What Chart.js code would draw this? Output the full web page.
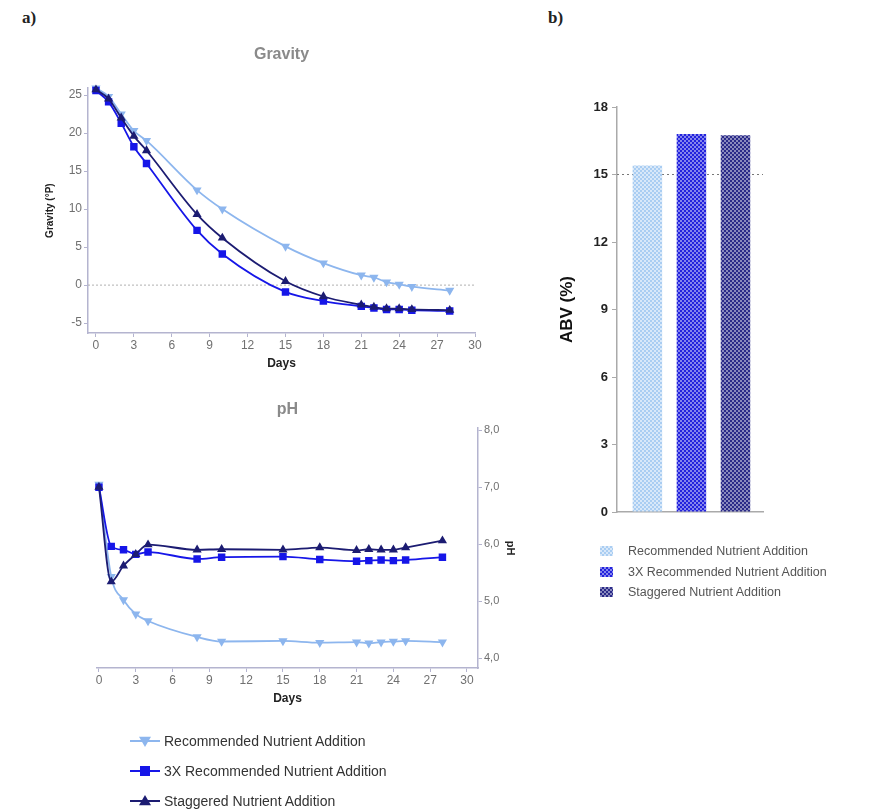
<!DOCTYPE html>
<html>
<head>
<meta charset="utf-8">
<script src="https://cdn.jsdelivr.net/npm/chart.js@4.4.1/dist/chart.umd.min.js"></script>
<style>
  body { margin: 0; background: #fff; width: 869px; height: 811px; position: relative; overflow: hidden;
         font-family: "Liberation Sans", Arial, sans-serif; }
  .box { position: absolute; }
  .panel { position: absolute; font-family: "Liberation Serif", "DejaVu Serif", serif; font-weight: bold; font-size: 17px; color: #222; }
  .leg { position: absolute; }
  .leg .row { display: flex; align-items: center; }
  .leg canvas { display: block; }
</style>
</head>
<body>
<div class="panel" style="left:22px;top:8px">a)</div>
<div class="panel" style="left:548px;top:8px">b)</div>

<div class="box" style="left:0;top:30px"><canvas id="gravity" width="487" height="350"></canvas></div>
<div class="box" style="left:0;top:385px"><canvas id="ph" width="525" height="330"></canvas></div>
<div class="box" style="left:540px;top:60px"><canvas id="abv" width="230" height="470"></canvas></div>

<div class="leg" id="lineLegend" style="left:128px;top:726px"></div>
<div class="leg" id="barLegend" style="left:600px;top:541px"></div>

<script>
// ---- data ----
const seriesNames = ["Recommended Nutrient Addition", "3X Recommended Nutrient Addition", "Staggered Nutrient Addition"];
const days = [0, 1, 2, 3, 4, 8, 10, 15, 18, 21, 22, 23, 24, 25, 28];
const dayTicks = [0, 3, 6, 9, 12, 15, 18, 21, 24, 27, 30];

const gravityRecommended = [25.9, 24.8, 22.5, 20.3, 19.0, 12.5, 10.0, 5.1, 2.9, 1.3, 1.0, 0.4, 0.1, -0.2, -0.7];
const gravity3X = [25.6, 24.1, 21.3, 18.2, 16.0, 7.2, 4.1, -0.9, -2.1, -2.8, -3.0, -3.2, -3.2, -3.3, -3.4];
const gravityStaggered = [25.7, 24.5, 22.0, 19.6, 17.7, 9.3, 6.2, 0.5, -1.5, -2.6, -2.9, -3.1, -3.1, -3.2, -3.3];
const gravityTicks = [-5, 0, 5, 10, 15, 20, 25];

const phRecommended = [7.05, 5.43, 5.02, 4.77, 4.65, 4.37, 4.29, 4.30, 4.27, 4.28, 4.26, 4.28, 4.29, 4.30, 4.28];
const ph3X = [7.0, 5.96, 5.90, 5.82, 5.86, 5.74, 5.77, 5.78, 5.73, 5.70, 5.71, 5.72, 5.71, 5.72, 5.77];
const phStaggered = [7.0, 5.34, 5.62, 5.82, 5.99, 5.90, 5.91, 5.90, 5.94, 5.89, 5.91, 5.90, 5.90, 5.94, 6.06];
const phTicks = [4, 5, 6, 7, 8];

const abvValues = [15.4, 16.8, 16.75];
const abvTicks = [0, 3, 6, 9, 12, 15, 18];
const abvRefLine = 15;
const gravityRefLine = 0;

// ---- styles ----
const lineColors = ["#8db6ee", "#1616e8", "#1c1c72"];
const barColors = ["#a9cdf2", "#2222dd", "#2a2a88"];
const axisColor = "#b4b4cf";

function checker(color, alpha) {
  const c = document.createElement("canvas");
  c.width = 4; c.height = 4;
  const g = c.getContext("2d");
  g.fillStyle = color;
  g.fillRect(0, 0, 4, 4);
  g.fillStyle = "rgba(255,255,255," + alpha + ")";
  g.fillRect(0, 0, 2, 2);
  g.fillRect(2, 2, 2, 2);
  return g.createPattern(c, "repeat");
}
const barPatterns = [checker(barColors[0], 0.55), checker(barColors[1], 0.45), checker(barColors[2], 0.45)];

const refLines = {
  id: "refLines",
  beforeDatasetsDraw(chart, args, opts) {
    const ctx = chart.ctx;
    const y = chart.scales.y.getPixelForValue(opts.value);
    ctx.save();
    ctx.setLineDash(opts.dash);
    ctx.strokeStyle = opts.color;
    ctx.lineWidth = 1;
    ctx.beginPath();
    ctx.moveTo(chart.chartArea.left, y);
    ctx.lineTo(chart.chartArea.right, y);
    ctx.stroke();
    ctx.restore();
  }
};

const toPoints = arr => arr.map((v, i) => ({ x: days[i], y: v }));
const fixTicks = list => scale => { scale.ticks = list.map(v => ({ value: v })); };

function lineSets(a, b, c) {
  const values = [a, b, c];
  const styles = [
    { pointStyle: "triangle", rotation: 180, radius: 3.5 },
    { pointStyle: "rect", rotation: 0, radius: 4 },
    { pointStyle: "triangle", rotation: 0, radius: 3.5 }
  ];
  return values.map((v, i) => ({
    label: seriesNames[i],
    data: toPoints(v),
    borderColor: lineColors[i],
    backgroundColor: lineColors[i],
    borderWidth: 1.8,
    pointStyle: styles[i].pointStyle,
    rotation: styles[i].rotation,
    pointRadius: styles[i].radius,
    cubicInterpolationMode: "monotone",
    clip: false
  })).reverse();
}

Chart.defaults.font.family = '"Liberation Sans", Arial, sans-serif';
Chart.defaults.animation = false;

new Chart(document.getElementById("gravity"), {
  type: "line",
  data: { datasets: lineSets(gravityRecommended, gravity3X, gravityStaggered) },
  options: {
    responsive: false,
    layout: { padding: { left: 40, right: 12 } },
    plugins: {
      legend: { display: false },
      tooltip: { enabled: false },
      title: { display: true, text: "Gravity", fullSize: false, color: "#8a8a8a",
               font: { size: 16, weight: "bold" }, padding: { top: 15, bottom: 24 } },
      refLines: { value: gravityRefLine, dash: [2, 2], color: "#b0b0b0" }
    },
    scales: {
      x: {
        type: "linear", min: -0.63, max: 30,
        afterBuildTicks: fixTicks(dayTicks),
        afterFit: s => { s.height = 47; },
        grid: { drawOnChartArea: false, tickLength: 4, color: axisColor },
        border: { color: axisColor, width: 1.5 },
        ticks: { color: "#707070", font: { size: 12 }, padding: 1 },
        title: { display: true, text: "Days", color: "#222", font: { size: 12, weight: "bold" }, padding: { top: 2, bottom: 9 } }
      },
      y: {
        min: -6.3, max: 25.9,
        afterBuildTicks: fixTicks(gravityTicks),
        afterFit: s => { s.width = 48; },
        grid: { drawOnChartArea: false, tickLength: 4, color: axisColor },
        border: { color: axisColor, width: 1.5 },
        ticks: { color: "#707070", font: { size: 12 }, padding: 2 },
        title: { display: true, text: "Gravity (°P)", color: "#222", font: { size: 10, weight: "bold" }, padding: { top: 4, bottom: 0 } }
      }
    }
  },
  plugins: [refLines]
});

new Chart(document.getElementById("ph"), {
  type: "line",
  data: { datasets: lineSets(phRecommended, ph3X, phStaggered) },
  options: {
    responsive: false,
    layout: { padding: { left: 97 } },
    plugins: {
      legend: { display: false },
      tooltip: { enabled: false },
      title: { display: true, text: "pH", fullSize: false, color: "#8a8a8a",
               font: { size: 16, weight: "bold" }, padding: { top: 15, bottom: 9 } }
    },
    scales: {
      x: {
        type: "linear", min: -0.16, max: 30.9,
        afterBuildTicks: fixTicks(dayTicks),
        afterFit: s => { s.height = 47; },
        grid: { drawOnChartArea: false, tickLength: 4, color: axisColor },
        border: { color: axisColor, width: 1.5 },
        ticks: { color: "#707070", font: { size: 12 }, padding: 1 },
        title: { display: true, text: "Days", color: "#222", font: { size: 12, weight: "bold" }, padding: { top: 2, bottom: 9 } }
      },
      y: {
        position: "right", min: 3.825, max: 8.035,
        afterBuildTicks: fixTicks(phTicks),
        afterFit: s => { s.width = 47; },
        grid: { drawOnChartArea: false, tickLength: 4, color: axisColor },
        border: { color: axisColor, width: 1.5 },
        ticks: { color: "#707070", font: { size: 11 }, padding: 2, callback: v => v.toFixed(1).replace(".", ",") },
        title: { display: true, text: "pH", color: "#222", font: { size: 11, weight: "bold" }, padding: { top: 8, bottom: 0 } }
      }
    }
  }
});

new Chart(document.getElementById("abv"), {
  type: "bar",
  data: {
    datasets: [{
      label: "ABV (%)",
      data: abvValues.map((v, i) => ({ x: i + 1, y: v })),
      backgroundColor: barPatterns,
      barPercentage: 0.67,
      categoryPercentage: 1
    }]
  },
  options: {
    responsive: false,
    layout: { padding: { top: 47, left: 13, right: 7 } },
    plugins: {
      legend: { display: false },
      tooltip: { enabled: false },
      refLines: { value: abvRefLine, dash: [2, 3], color: "#777777" }
    },
    scales: {
      x: {
        type: "linear", min: 0.31, max: 3.625, offset: false,
        afterFit: s => { s.height = 18; },
        grid: { display: false, offset: false },
        border: { color: "#aaaaaa", width: 1.5 },
        ticks: { display: false }
      },
      y: {
        min: 0, max: 18,
        afterBuildTicks: fixTicks(abvTicks),
        afterFit: s => { s.width = 64; },
        grid: { drawOnChartArea: false, tickLength: 5, color: "#aaaaaa" },
        border: { color: "#aaaaaa", width: 1.5 },
        ticks: { color: "#222", font: { size: 13, weight: "bold" }, padding: 4 },
        title: { display: true, text: "ABV (%)", color: "#111", font: { size: 17, weight: "bold" }, padding: { top: 4, bottom: 0 } }
      }
    }
  },
  plugins: [refLines]
});

// ---- legends ----
function drawMarker(g, i, cx, cy) {
  g.fillStyle = lineColors[i];
  g.beginPath();
  if (i === 1) {
    g.fillRect(cx - 5, cy - 5, 10, 10);
    return;
  }
  const r = 6;
  const d = i === 0 ? -1 : 1;
  g.moveTo(cx, cy - d * r);
  g.lineTo(cx - r, cy + d * r * 0.7);
  g.lineTo(cx + r, cy + d * r * 0.7);
  g.closePath();
  g.fill();
}

const lineLegend = document.getElementById("lineLegend");
seriesNames.forEach((name, i) => {
  const row = document.createElement("div");
  row.className = "row";
  row.style.height = "30px";
  const c = document.createElement("canvas");
  c.width = 34; c.height = 20;
  const g = c.getContext("2d");
  g.strokeStyle = lineColors[i];
  g.lineWidth = 2;
  g.beginPath(); g.moveTo(2, 10); g.lineTo(32, 10); g.stroke();
  drawMarker(g, i, 17, 10);
  row.appendChild(c);
  const t = document.createElement("span");
  t.textContent = name;
  t.style.cssText = "font-size:14px;color:#333;margin-left:2px";
  row.appendChild(t);
  lineLegend.appendChild(row);
});

const barLegend = document.getElementById("barLegend");
seriesNames.forEach((name, i) => {
  const row = document.createElement("div");
  row.className = "row";
  row.style.height = "20.5px";
  const c = document.createElement("canvas");
  c.width = 13; c.height = 10;
  const g = c.getContext("2d");
  g.fillStyle = barPatterns[i];
  g.fillRect(0, 0, 13, 10);
  row.appendChild(c);
  const t = document.createElement("span");
  t.textContent = name;
  t.style.cssText = "font-size:12.5px;color:#555;margin-left:15px";
  row.appendChild(t);
  barLegend.appendChild(row);
});
</script>
</body>
</html>
